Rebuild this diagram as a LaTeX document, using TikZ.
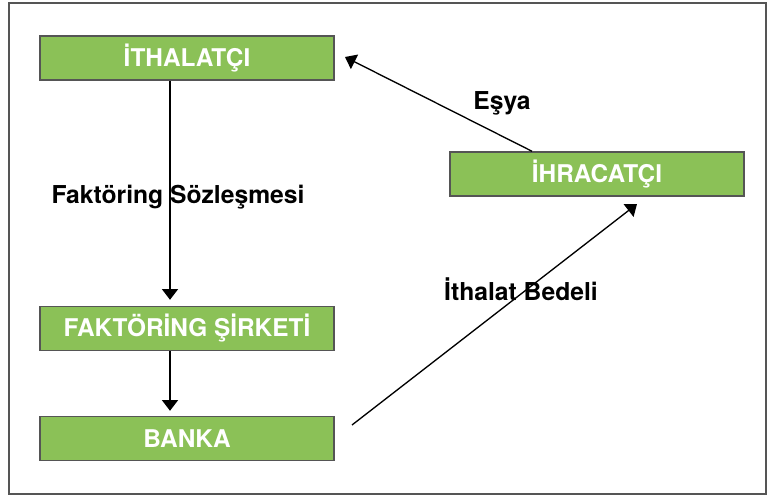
\documentclass[tikz,border=0pt]{standalone}
\usepackage{fontspec}
\setmainfont{TeX Gyre Heros}
\usetikzlibrary{arrows.meta}
\definecolor{boxgreen}{RGB}{139,193,87}
\definecolor{boxline}{RGB}{85,85,85}
\tikzset{actor/.style={draw=boxline, line width=1.1pt, fill=boxgreen,
   text=white, font=\fontsize{18.3}{21}\selectfont\bfseries,
   minimum width=220.5pt, minimum height=33pt, inner sep=0pt},
 lbl/.style={font=\fontsize{18.5}{21}\selectfont\bfseries},
 flow/.style={line width=1pt, -{Triangle[width=12pt,length=8pt]}},
 }

\begin{document}
\begin{tikzpicture}[x=0.75pt, y=-0.75pt]
        \useasboundingbox (0,0) rectangle (769,496);
        \draw[boxline, line width=0.8pt] (9,3) rectangle (766,494);
        \node[actor] (ithalatci) at (187,58) {İTHALATÇI};
        \node[actor] (faktoring) at (187,328.5) {FAKTÖRİNG ŞİRKETİ};
        \node[actor] (banka) at (187,438.5) {BANKA};
        \node[actor] (ihracatci) at (597,174) {İHRACATÇI};
        \coordinate (esyaend) at (345,57);
        \coordinate (bedelstart) at (352,425);
        \coordinate (bedelend) at (637,204);
        \draw[flow] ([xshift=-12.75pt]ithalatci.south) -- ([xshift=-12.75pt,yshift=4.5pt]faktoring.north);
        \draw[flow] ([xshift=-12.75pt]faktoring.south) -- ([xshift=-12.75pt,yshift=3.75pt]banka.north);
        \draw[flow] ([xshift=-48.75pt]ihracatci.north) -- (esyaend);
        \draw[flow] (bedelstart) -- (bedelend);
        \node[lbl] (sozlesme) at (178,197) {Faktöring Sözleşmesi};
        \node[lbl] (esya) at (502,103) {Eşya};
        \node[lbl] (bedel) at (521,289) {İthalat Bedeli};
    \end{tikzpicture}
\end{document}
